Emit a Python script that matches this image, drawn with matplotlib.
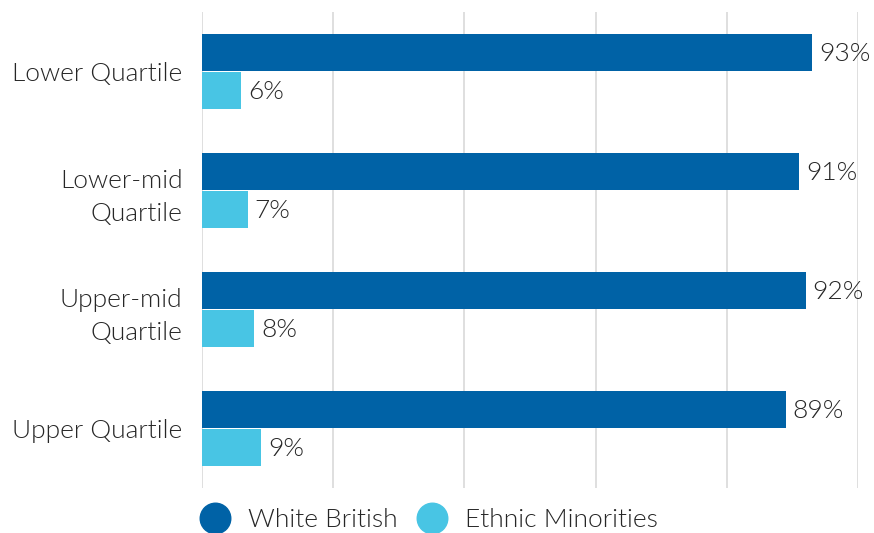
import matplotlib.pyplot as plt
import numpy as np

plt.rcParams['font.family'] = ['Lato', 'DejaVu Sans']
plt.rcParams['font.weight'] = 300

categories = ["Lower Quartile", "Lower-mid\nQuartile", "Upper-mid\nQuartile", "Upper Quartile"]
white_british = [93, 91, 92, 89]
ethnic_minorities = [6, 7, 8, 9]
series_names = ["White British", "Ethnic Minorities"]

dark_blue = "#0062A6"
light_blue = "#48C5E4"
text_col = "#262626"
fs = 19

fig = plt.figure(figsize=(8.74, 5.33), dpi=100)
ax = fig.add_axes([202 / 874, 45 / 533, 656 / 874, 476 / 533])

y = np.arange(len(categories))
h = 37 / 120
off = 19.5 / 120

b1 = ax.barh(y - off, white_british, height=h, color=dark_blue, label=series_names[0], zorder=3)
b2 = ax.barh(y + off, ethnic_minorities, height=h, color=light_blue, label=series_names[1], zorder=3)

for bars, vals in [(b1, white_british), (b2, ethnic_minorities)]:
    for bar, v in zip(bars, vals):
        ax.annotate(f"{v}%", (bar.get_width(), bar.get_y() + bar.get_height() / 2),
                    xytext=(5, -1), textcoords="offset points", va="center", ha="left",
                    fontsize=fs, color=text_col)

ax.set_xlim(0, 100)
ax.set_ylim(3.5, -0.5)
ax.set_xticks(np.arange(0, 101, 20))
ax.set_xticklabels([])
ax.set_yticks(y)
ax.set_yticklabels(categories, fontsize=fs, color=text_col, multialignment="right",
                   linespacing=1.45)
for lbl in ax.get_yticklabels():
    lbl.set_y(lbl.get_position()[1])
ax.tick_params(axis="both", length=0)
ax.tick_params(axis="y", pad=14)
ax.grid(axis="x", color="#d9d9d9", linewidth=1.2, zorder=0)
for s in ax.spines.values():
    s.set_visible(False)

handles = [plt.Line2D([], [], marker="o", linestyle="", markersize=22, color=c)
           for c in (dark_blue, light_blue)]
leg = fig.legend(handles, series_names, loc="center left", bbox_to_anchor=(175 / 874, 13 / 533),
                 ncol=2, frameon=False, fontsize=fs, handletextpad=0.66, columnspacing=0.7,
                 handlelength=1.2)
for t in leg.get_texts():
    t.set_color(text_col)

fig.savefig("out.png", dpi=100)
